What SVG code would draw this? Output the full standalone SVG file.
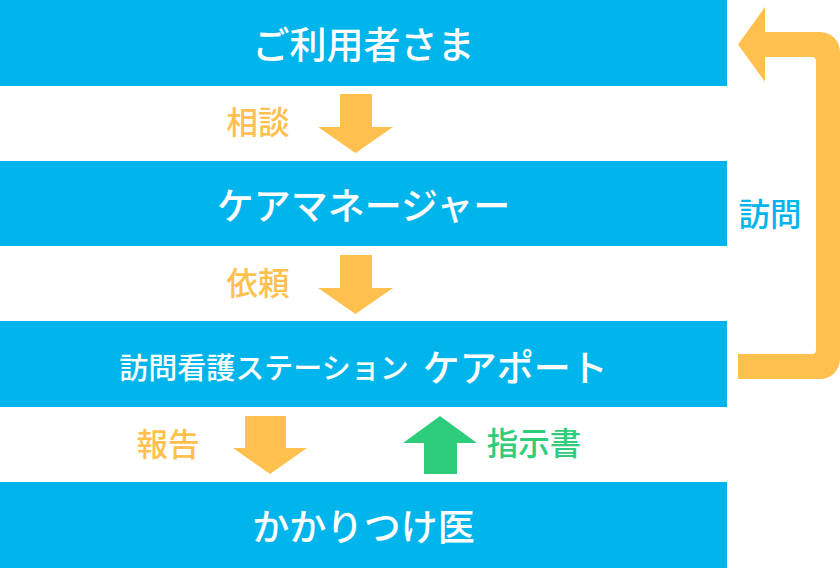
<svg xmlns="http://www.w3.org/2000/svg" width="840" height="568" viewBox="0 0 840 568">
<style>
.bar{fill:#00B4EC}
.title{font-family:"Noto Sans CJK JP","Noto Sans",sans-serif;fill:#FFFFFF;font-size:37px;font-weight:500}
.lbl{font-family:"Noto Sans CJK JP","Noto Sans",sans-serif;font-size:31.5px;font-weight:500}
.org{fill:#FFC04E}
.grn{fill:#2ECD7B}
.cyan{fill:#00B4EC}
</style>
<rect width="840" height="568" fill="#FFFFFF"/>
<g id="node-user">
<rect class="bar" x="0" y="0" width="727" height="86"/>
<text class="title" x="363.5" y="43" text-anchor="middle" dominant-baseline="central">ご利用者さま</text>
</g>
<g id="node-caremanager">
<rect class="bar" x="0" y="161" width="727" height="85"/>
<text class="title" x="363.5" y="204" text-anchor="middle" dominant-baseline="central">ケアマネージャー</text>
</g>
<g id="node-station">
<rect class="bar" x="0" y="321" width="727" height="86"/>
<text class="title" x="363.5" y="366" text-anchor="middle" dominant-baseline="central"><tspan font-size="29px">訪問看護ステーション</tspan><tspan dx="14">ケアポート</tspan></text>
</g>
<g id="node-doctor">
<rect class="bar" x="0" y="482" width="727" height="86"/>
<text class="title" x="363.5" y="525" text-anchor="middle" dominant-baseline="central">かかりつけ医</text>
</g>
<g id="connectors">
<path class="org" d="M340 94 H372 V127 H393 L355.5 153 L318 127 H340 Z"/>
<path class="org" d="M340 255 H372 V288 H393 L355.5 314 L318 288 H340 Z"/>
<path class="org" d="M245 416 H286 V448 H307 L270 474 L233 448 H245 Z"/>
<path class="grn" d="M424 474 H457 V443 H477 L440 416 L403 443 H424 Z"/>
<path class="org" d="M738 44.5 L765 7 V32 H820 A20 20 0 0 1 840 52 V359 A20 20 0 0 1 820 379 H738 V354 H812 A4 4 0 0 0 816 350 V61 A4 4 0 0 0 812 57 H765 V82 Z"/>
<text class="lbl org" x="258" y="120" text-anchor="middle" dominant-baseline="central">相談</text>
<text class="lbl org" x="258" y="281" text-anchor="middle" dominant-baseline="central">依頼</text>
<text class="lbl org" x="168" y="442" text-anchor="middle" dominant-baseline="central">報告</text>
<text class="lbl grn" x="534" y="441" text-anchor="middle" dominant-baseline="central">指示書</text>
<text class="lbl cyan" x="770" y="212" text-anchor="middle" dominant-baseline="central">訪問</text>
</g>
</svg>
